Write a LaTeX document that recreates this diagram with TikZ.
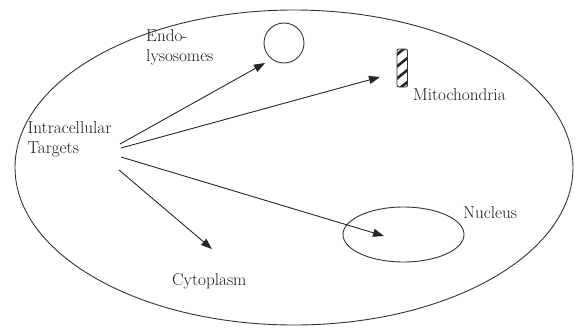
\documentclass[tikz,border=0pt]{standalone}
\usetikzlibrary{arrows.meta}
\begin{document}
\begin{tikzpicture}[x=1pt,y=-1pt,
  lbl/.style={inner sep=0pt,font=\fontsize{17.2}{20}\selectfont,text=black!90},
  conn/.style={line width=0.9pt,draw=black!85,-{Triangle[length=11pt,width=8pt]}},
  organelle/.style={line width=0.9pt,draw=black!80}]
\useasboundingbox (0,0) rectangle (576,327);
% cell
\draw[organelle] (294,167.5) ellipse [x radius=279, y radius=157.5];
% endolysosome
\node[organelle,circle,minimum size=40pt,inner sep=0pt] (endo) at (284,43) {};
% mitochondrion
\begin{scope}
  \clip[rounded corners=2pt] (397,49) rectangle (407.5,87);
  \foreach \y in {44,56,68,80} {\draw[line width=2.6pt,black!85] (395,\y+12) -- (410,\y);}
\end{scope}
\node[organelle,draw,rounded corners=2pt,minimum width=10.5pt,minimum height=38pt,inner sep=0pt] (mito) at (402.25,68) {};
% nucleus
\draw[organelle] (403.5,234.5) ellipse [x radius=60.5, y radius=27.5];
\coordinate (nucl) at (403.5,234.5);
% labels
\node[lbl,anchor=base west,align=left] (tgt) at (27.5,153) {Intracellular\\Targets};
\node[lbl,anchor=base west,align=left] (endolbl) at (146,61) {Endo-\\lysosomes};
\node[lbl,anchor=base west] (mitolbl) at (413,100) {Mitochondria};
\node[lbl,anchor=base west] (nuclbl) at (463,218) {Nucleus};
\node[lbl,anchor=base west] (cytolbl) at (172,285) {Cytoplasm};
% arrow ends
\coordinate (s1) at (120,144);
\coordinate (s2) at (121,148);
\coordinate (s3) at (121,157);
\coordinate (s4) at (119,170);
\coordinate (e1) at (265,63);
\coordinate (e2) at (380,77);
\coordinate (e3) at (384,236);
\coordinate (e4) at (212,249);
\draw[conn] (s1) -- (e1);
\draw[conn] (s2) -- (e2);
\draw[conn] (s3) -- (e3);
\draw[conn] (s4) -- (e4);
\end{tikzpicture}
\end{document}
